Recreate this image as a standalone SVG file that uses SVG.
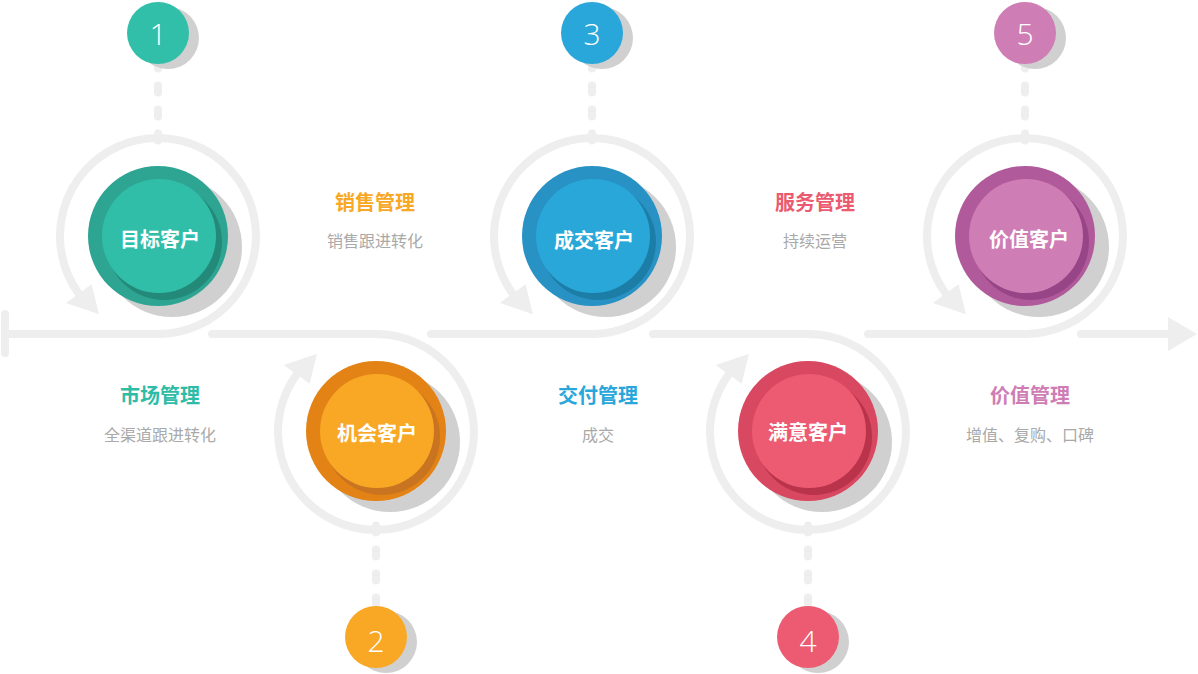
<svg xmlns="http://www.w3.org/2000/svg" width="1198" height="674" viewBox="0 0 1198 674">
<style>
.rail{fill:none;stroke:#eeeeee;stroke-width:8;stroke-linecap:round}
.dash{fill:none;stroke:#eeeeee;stroke-width:8;stroke-linecap:round;stroke-dasharray:7 17}
.head{fill:#eeeeee}
.sh{fill:#d0d0d0}
.lbl{font-family:"Noto Sans CJK SC","Noto Sans",sans-serif;font-weight:700;font-size:20px;fill:#ffffff;text-anchor:middle}
.num{font-family:"Open Sans","Lato",sans-serif;font-weight:300;font-size:30px;fill:#ffffff;text-anchor:middle}
.ttl{font-family:"Noto Sans CJK SC","Noto Sans",sans-serif;font-weight:700;font-size:20px;text-anchor:middle}
.sub{font-family:"Noto Sans CJK SC","Noto Sans",sans-serif;font-size:16px;fill:#a9a9a9;text-anchor:middle}
</style>
<rect width="1198" height="674" fill="#ffffff"/>
<g id="connectors">
  <line class="rail" x1="5" y1="314" x2="5" y2="353"/>
  <path class="rail" d="M5,334 H158 A98,98 0 1 0 78.7,293.6"/>
  <polygon class="head" points="65.8,303 91.6,284.2 99,314.3"/>
  <path class="rail" d="M212,334 H376 A98,98 0 1 1 296.7,374.4"/>
  <polygon class="head" points="283.8,365 309.6,383.8 317,353.7"/>
  <path class="rail" d="M431,334 H592 A98,98 0 1 0 512.7,293.6"/>
  <polygon class="head" points="499.8,303 525.6,284.2 533,314.3"/>
  <path class="rail" d="M653,334 H808 A98,98 0 1 1 728.7,374.4"/>
  <polygon class="head" points="715.8,365 741.6,383.8 749,353.7"/>
  <path class="rail" d="M868,334 H1025 A98,98 0 1 0 945.7,293.6"/>
  <polygon class="head" points="932.8,303 958.6,284.2 966,314.3"/>
  <line class="rail" x1="1081" y1="334" x2="1170" y2="334"/>
  <polygon class="head" points="1168,317 1197,334 1168,351"/>
  <line class="dash" x1="158" y1="140.5" x2="158" y2="30"/>
  <line class="dash" x1="592" y1="140.5" x2="592" y2="30"/>
  <line class="dash" x1="1025" y1="140.5" x2="1025" y2="30"/>
  <line class="dash" x1="376" y1="525.5" x2="376" y2="640"/>
  <line class="dash" x1="808" y1="525.5" x2="808" y2="640"/>
</g>
<g id="badge1"><circle class="sh" cx="168" cy="38" r="31"/><circle cx="158" cy="33" r="31" fill="#31bfa9"/><text class="num" x="158" y="45">1</text></g>
<g id="badge2"><circle class="sh" cx="386" cy="642" r="31"/><circle cx="376" cy="637" r="31" fill="#f9a825"/><text class="num" x="376" y="652">2</text></g>
<g id="badge3"><circle class="sh" cx="602" cy="38" r="31"/><circle cx="592" cy="33" r="31" fill="#29a6da"/><text class="num" x="592" y="45">3</text></g>
<g id="badge4"><circle class="sh" cx="818" cy="642" r="31"/><circle cx="808" cy="637" r="31" fill="#ec5b72"/><text class="num" x="808" y="652">4</text></g>
<g id="badge5"><circle class="sh" cx="1035" cy="38" r="31"/><circle cx="1025" cy="33" r="31" fill="#cf7db5"/><text class="num" x="1025" y="45">5</text></g>
<g id="node1">
  <circle class="sh" cx="172" cy="247" r="70"/>
  <circle cx="158" cy="236" r="70" fill="#2ea592"/>
  <circle cx="164" cy="242" r="58" fill="#238a79"/>
  <circle cx="159" cy="236" r="57" fill="#31bea9"/>
  <text class="lbl" x="160" y="247">目标客户</text>
</g>
<g id="node2">
  <circle class="sh" cx="390" cy="442" r="70"/>
  <circle cx="376" cy="431" r="70" fill="#e48315"/>
  <circle cx="382" cy="437" r="58" fill="#c97420"/>
  <circle cx="377" cy="431" r="57" fill="#f9a825"/>
  <text class="lbl" x="377" y="441">机会客户</text>
</g>
<g id="node3">
  <circle class="sh" cx="606" cy="247" r="70"/>
  <circle cx="592" cy="236" r="70" fill="#2892c4"/>
  <circle cx="598" cy="242" r="58" fill="#1c7ea6"/>
  <circle cx="593" cy="236" r="57" fill="#29a7d9"/>
  <text class="lbl" x="594" y="248">成交客户</text>
</g>
<g id="node4">
  <circle class="sh" cx="822" cy="442" r="70"/>
  <circle cx="808" cy="431" r="70" fill="#d84860"/>
  <circle cx="814" cy="437" r="58" fill="#b9334a"/>
  <circle cx="809" cy="431" r="57" fill="#ec5b72"/>
  <text class="lbl" x="808" y="440">满意客户</text>
</g>
<g id="node5">
  <circle class="sh" cx="1039" cy="247" r="70"/>
  <circle cx="1025" cy="236" r="70" fill="#b05a9b"/>
  <circle cx="1031" cy="242" r="58" fill="#974586"/>
  <circle cx="1026" cy="236" r="57" fill="#cf7db5"/>
  <text class="lbl" x="1029" y="247">价值客户</text>
</g>
<g id="label-market"><text class="ttl" x="160" y="403" fill="#2fbca7">市场管理</text><text class="sub" x="160" y="441">全渠道跟进转化</text></g>
<g id="label-sales"><text class="ttl" x="375" y="210" fill="#f9a825">销售管理</text><text class="sub" x="375" y="247">销售跟进转化</text></g>
<g id="label-delivery"><text class="ttl" x="598" y="403" fill="#29a6da">交付管理</text><text class="sub" x="598" y="441">成交</text></g>
<g id="label-service"><text class="ttl" x="815" y="210" fill="#ec5a70">服务管理</text><text class="sub" x="815" y="247">持续运营</text></g>
<g id="label-value"><text class="ttl" x="1030" y="403" fill="#cf7db5">价值管理</text><text class="sub" x="1030" y="441">增值、复购、口碑</text></g>
</svg>
